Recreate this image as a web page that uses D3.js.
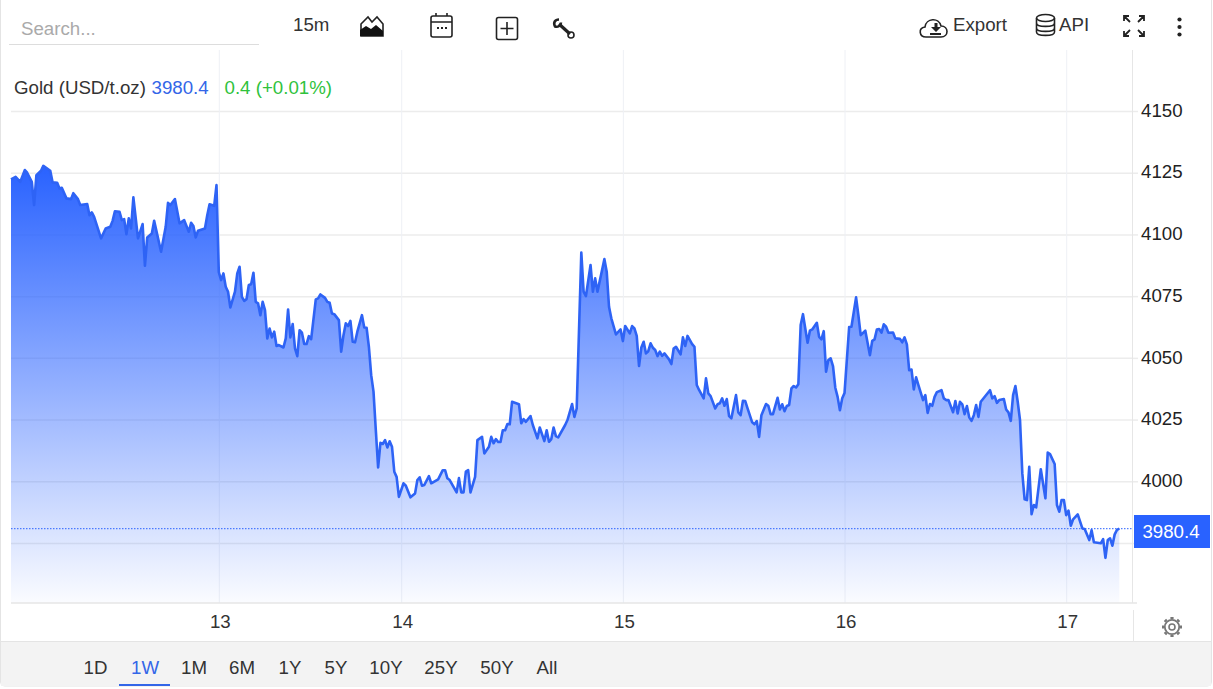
<!DOCTYPE html>
<html>
<head>
<meta charset="utf-8">
<title>Gold (USD/t.oz)</title>
<script src="https://cdn.jsdelivr.net/npm/d3@7"></script>
<style>
  html, body { margin: 0; padding: 0; background: #fff; }
  svg { display: block; font-family: "Liberation Sans", Arial, sans-serif; }
  .axis path { display: none; }
  .axis text { font-size: 18.7px; fill: #222; }
  .icon { fill: none; stroke: #222; stroke-width: 1.6; }
</style>
</head>
<body>
<svg id="chart" width="1213" height="689"></svg>
<script>
// [15 minute bar, price], one list per day
const day12 = [[0,4122.3],[2,4123.3],[4,4121.3],[6,4126.1],[7,4125.0],[9,4121.3],[10,4111.9],[11,4124.0],[13,4125.8],[14,4127.8],[17,4125.8],[18,4121.1],[20,4120.9],[21,4118.6],[22,4118.9],[24,4114.6],[26,4114.3],[27,4116.7],[29,4114.3],[30,4111.9],[33,4112.3],[34,4107.8],[35,4108.9],[36,4107.1],[39,4098.4],[41,4102.4],[43,4103.1],[44,4105.5],[45,4109.4],[47,4109.2],[48,4105.8],[49,4106.2],[50,4100.1],[51,4106.5],[52,4102.4],[53,4115.0],[55,4098.4],[57,4104.2],[58,4087.3],[59,4098.8],[61,4100.4],[62,4105.5],[65,4093.0],[67,4103.1],[68,4112.8],[69,4111.9],[71,4114.3],[73,4104.5],[75,4105.8],[77,4101.1],[78,4104.7],[79,4103.4],[80,4098.8],[81,4101.5],[84,4102.4],[85,4107.8],[86,4112.2],[88,4111.6],[89,4120.0]];
const day13 = [[90,4084.7],[91,4081.5],[92,4084.2],[93,4078.8],[94,4076.8],[95,4070.4],[97,4076.8],[98,4084.2],[99,4086.9],[100,4074.7],[101,4073.1],[102,4073.8],[103,4079.5],[104,4079.8],[105,4084.5],[106,4072.7],[107,4072.1],[108,4067.3],[109,4072.7],[110,4069.3],[111,4057.9],[112,4061.9],[113,4058.3],[114,4060.6],[115,4054.8],[116,4055.2],[118,4054.2],[119,4057.9],[120,4069.6],[121,4058.3],[122,4063.7],[123,4053.8],[124,4050.7],[125,4061.2],[126,4060.2],[127,4055.6],[128,4055.6],[129,4058.8],[130,4057.6],[132,4073.7],[133,4074.1],[134,4075.7],[136,4074.3],[137,4072.7],[138,4072.3],[139,4068.0],[140,4067.7],[142,4065.3],[143,4052.5],[144,4059.2],[145,4064.0],[146,4062.9],[147,4065.0],[148,4056.5],[149,4056.3],[150,4060.6],[152,4067.3],[153,4062.3],[154,4062.2],[155,4054.5],[156,4043.0],[157,4036.3],[158,4020.7],[159,4005.6],[160,4015.6],[161,4015.1],[162,4016.7],[163,4013.7],[164,4016.2],[165,4014.0],[166,4003.9],[167,4001.8],[168,3993.7]];
const day14 = [[170,3999.2],[171,3998.2],[173,3993.5],[175,3995.1],[176,4000.5],[177,4001.6],[178,3998.2],[179,3998.5],[181,4002.1],[182,3999.2],[185,4000.8],[187,4004.5],[188,4004.5],[189,4001.2],[190,4000.5],[193,3995.5],[194,4001.3],[195,3995.5],[196,3995.5],[197,4003.9],[198,4004.5],[199,3995.5],[201,4001.8],[202,4016.7],[204,4018.0],[205,4011.3],[207,4014.0],[208,4018.0],[209,4015.4],[210,4017.1],[211,4015.9],[212,4015.9],[213,4020.7],[214,4020.7],[215,4023.2],[216,4023.1],[217,4032.2],[220,4031.2],[221,4023.5],[222,4025.2],[223,4024.1],[225,4026.4],[226,4022.8],[228,4017.4],[229,4021.8],[231,4016.3],[232,4020.7],[233,4016.0],[234,4017.1],[235,4021.8],[236,4018.3],[237,4017.8],[240,4022.8],[241,4024.8],[243,4031.3],[244,4026.1],[245,4029.5],[247,4092.7],[248,4076.8],[249,4075.0],[251,4087.6],[252,4076.8],[253,4082.2],[254,4076.8],[257,4090.0],[258,4084.9],[259,4070.7],[260,4066.0],[262,4059.5],[264,4061.5]];
const day15 = [[265,4056.8],[266,4062.9],[268,4059.9],[269,4062.9],[270,4061.9],[271,4058.9],[272,4046.7],[273,4054.2],[274,4056.5],[275,4051.8],[276,4052.7],[277,4055.9],[278,4054.1],[279,4053.2],[280,4050.7],[281,4052.5],[282,4050.8],[283,4051.8],[285,4049.4],[286,4047.5],[287,4053.8],[288,4054.5],[290,4051.4],[291,4058.3],[292,4054.8],[293,4058.9],[295,4055.6],[296,4054.5],[297,4039.0],[298,4037.0],[300,4033.6],[301,4041.7],[302,4035.6],[303,4034.5],[305,4029.5],[306,4031.2],[307,4031.6],[308,4033.6],[309,4030.6],[310,4033.3],[311,4026.4],[312,4025.5],[314,4034.9],[315,4027.9],[316,4026.8],[317,4032.6],[318,4032.5],[319,4029.5],[321,4023.9],[322,4023.1],[323,4024.4],[324,4018.0],[325,4026.8],[327,4031.3],[328,4030.6],[329,4027.2],[330,4027.2],[332,4033.8],[333,4029.1],[334,4031.2],[335,4028.4],[336,4030.5],[337,4030.9],[338,4037.6],[339,4038.6],[340,4038.0],[341,4039.3],[342,4063.3],[343,4067.7],[345,4056.1],[346,4061.0],[347,4061.5],[349,4064.2],[350,4058.5],[351,4057.5],[352,4060.8],[353,4044.4],[354,4049.1],[355,4049.8],[356,4046.7],[357,4037.9],[358,4034.2],[359,4028.8],[360,4033.6]];
const day16 = [[361,4035.8],[363,4062.5],[364,4062.6],[366,4074.5],[367,4067.3],[368,4059.2],[370,4061.0],[372,4051.1],[373,4056.9],[374,4057.5],[375,4061.5],[376,4061.7],[377,4060.2],[378,4063.6],[379,4062.6],[380,4060.2],[382,4060.3],[383,4057.9],[385,4057.7],[386,4056.3],[387,4058.3],[388,4055.5],[389,4045.0],[390,4045.3],[391,4037.2],[392,4042.1],[393,4039.0],[395,4032.9],[396,4034.9],[397,4027.7],[398,4031.3],[399,4030.6],[400,4034.2],[401,4036.1],[403,4036.9],[404,4033.6],[405,4032.9],[406,4032.9],[408,4028.0],[409,4032.5],[410,4027.5],[411,4032.2],[412,4031.2],[413,4027.2],[414,4030.5],[415,4025.9],[416,4024.5],[417,4026.8],[418,4030.9],[419,4026.1],[420,4032.2],[424,4036.9],[425,4033.6],[426,4034.5],[427,4031.8],[428,4032.9],[430,4033.3],[431,4029.1],[432,4027.9],[433,4024.5],[434,4034.9],[435,4038.6],[436,4032.2],[437,4024.8],[438,4003.2],[439,3992.7],[440,3992.4],[441,4005.9],[442,3986.7],[443,3990.4],[444,3989.4],[446,4004.9],[448,3993.1],[449,4011.6],[450,4011.0],[452,4007.0],[453,3990.4],[454,3987.7],[455,3992.4],[456,3992.4]];
const day17 = [[457,3986.3],[458,3988.1],[459,3982.0],[460,3984.6],[462,3986.6],[464,3980.9],[465,3980.7],[467,3976.2],[468,3980.2],[469,3975.3],[472,3974.9],[473,3976.6],[474,3969.0],[475,3976.2],[476,3976.9],[477,3973.9],[478,3978.5],[479,3980.3],[480,3980.8]];

const yTicks = [4150, 4125, 4100, 4075, 4050, 4025, 4000, 3975];
const yHiddenLabel = 3975; // sits behind the price tag
const dayTickBars = [90, 169, 265, 361, 457];
const dayTickLabels = ["13", "14", "15", "16", "17"];
const ranges = ["1D", "1W", "1M", "6M", "1Y", "5Y", "10Y", "25Y", "50Y", "All"];
const rangeCentres = [95.5, 145, 194, 242, 290, 336, 386, 441, 497, 547];
const activeRange = "1W";

const quotes = [...day12, ...day13, ...day14, ...day15, ...day16, ...day17];
const lastQuote = quotes[quotes.length - 1];

const svg = d3.select("#chart");
const blue = "#2962ff";
const textSize = 18.7;

const plotLeft = 11, plotRight = 1132, plotTop = 50, plotBottom = 603;

const x = d3.scaleLinear().domain([0, 480]).range([plotLeft, 1119.3]);
const y = d3.scaleLinear().domain([4150, 3950.7]).range([111, plotBottom]);

// card + bottom strip
svg.append("rect").attr("x", 0.5).attr("y", -4).attr("width", 1211).attr("height", 690)
  .attr("rx", 4).attr("fill", "#fff").attr("stroke", "#e4e4e4");
svg.append("rect").attr("x", 1).attr("y", 642).attr("width", 1210).attr("height", 44)
  .attr("fill", "#f3f3f3");
svg.append("line").attr("x1", 1).attr("x2", 1211).attr("y1", 641.5).attr("y2", 641.5)
  .attr("stroke", "#e4e4e4");

// gridlines
svg.append("g").attr("transform", `translate(${plotRight},0)`)
  .call(d3.axisLeft(y).tickValues(yTicks).tickSize(plotRight - plotLeft).tickFormat(""))
  .call((g) => g.select(".domain").remove())
  .selectAll("line").attr("stroke", "#ececec").attr("stroke-width", 1.5);
svg.append("g").attr("transform", `translate(0,${plotBottom})`)
  .call(d3.axisTop(x).tickValues(dayTickBars).tickSize(plotBottom - plotTop).tickFormat(""))
  .call((g) => g.select(".domain").remove())
  .selectAll("line").attr("stroke", "#eef0f5");

// area + line
const grad = svg.append("defs").append("linearGradient")
  .attr("id", "fade").attr("x1", 0).attr("x2", 0).attr("y1", 0).attr("y2", 1);
grad.append("stop").attr("offset", "0%").attr("stop-color", blue).attr("stop-opacity", 1);
grad.append("stop").attr("offset", "100%").attr("stop-color", blue).attr("stop-opacity", 0.02);

svg.append("path").datum(quotes)
  .attr("fill", "url(#fade)")
  .attr("d", d3.area().x((d) => x(d[0])).y0(plotBottom).y1((d) => y(d[1])));
svg.append("path").datum(quotes)
  .attr("fill", "none").attr("stroke", "#2e63f5").attr("stroke-width", 2.6)
  .attr("stroke-linejoin", "round")
  .attr("d", d3.line().x((d) => x(d[0])).y((d) => y(d[1])));

// last price line
svg.append("line").attr("x1", plotLeft).attr("x2", plotRight)
  .attr("y1", y(lastQuote[1])).attr("y2", y(lastQuote[1]))
  .attr("stroke", blue).attr("stroke-dasharray", "1.5 1.5");

// axes
const yAxis = svg.append("g").attr("class", "axis").attr("transform", `translate(${plotRight},0)`)
  .call(d3.axisRight(y).tickValues(yTicks).tickSize(6).tickPadding(3)
    .tickFormat((d) => (d === yHiddenLabel ? "" : d)));
yAxis.selectAll("line").attr("stroke", "#ececec").attr("stroke-width", 1.5);
yAxis.selectAll("text").attr("dy", "0.28em");

const xAxis = svg.append("g").attr("class", "axis").attr("transform", `translate(1,${plotBottom})`)
  .call(d3.axisBottom(x).tickValues(dayTickBars).tickSize(0).tickPadding(12)
    .tickFormat((d, i) => dayTickLabels[i]));
xAxis.selectAll("text").style("fill", "#333");

svg.append("line").attr("x1", plotLeft).attr("x2", plotRight + 5).attr("y1", plotBottom).attr("y2", plotBottom)
  .attr("stroke", "#e6e6e6").attr("stroke-width", 1.5);
svg.append("line").attr("x1", plotRight + 0.5).attr("x2", plotRight + 0.5).attr("y1", plotTop).attr("y2", plotBottom)
  .attr("stroke", "#e6e6e6");
svg.append("line").attr("x1", plotRight + 1.5).attr("x2", plotRight + 1.5).attr("y1", 610).attr("y2", 642)
  .attr("stroke", "#e6e6e6");

// price tag
svg.append("rect").attr("x", 1134).attr("y", 515).attr("width", 76).attr("height", 33).attr("fill", blue);
svg.append("text").attr("x", 1171).attr("y", 538).attr("text-anchor", "middle")
  .attr("font-size", textSize).attr("fill", "#fff").text("3980.4");

// legend
const legend = svg.append("g").attr("font-size", textSize);
legend.append("text").attr("x", 14).attr("y", 94).attr("fill", "#333").text("Gold (USD/t.oz)");
legend.append("text").attr("x", 151.5).attr("y", 94).attr("fill", "#3366e8").text("3980.4");
legend.append("text").attr("x", 224.5).attr("y", 94).attr("fill", "#2fc23c").text("0.4 (+0.01%)");

// toolbar
svg.append("text").attr("x", 21).attr("y", 35).attr("font-size", textSize).attr("fill", "#aaa").text("Search...");
svg.append("line").attr("x1", 9).attr("x2", 259).attr("y1", 44.5).attr("y2", 44.5).attr("stroke", "#ddd");
svg.append("text").attr("x", 293).attr("y", 31).attr("font-size", textSize).attr("fill", "#333").text("15m");
svg.append("text").attr("x", 953).attr("y", 31).attr("font-size", textSize).attr("fill", "#333").text("Export");
svg.append("text").attr("x", 1059).attr("y", 31).attr("font-size", textSize).attr("fill", "#333").text("API");

// chart type icon
svg.append("path").attr("class", "icon").attr("d", "M361 24l7-7 4 5 5-5 6 7v12h-22z");
svg.append("path").attr("fill", "#111").attr("d", "M360 36v-6l6-4 5 3 5-4 7 6v5z");
// calendar
svg.append("rect").attr("class", "icon").attr("x", 431).attr("y", 16).attr("width", 21).attr("height", 21).attr("rx", 2);
svg.append("path").attr("class", "icon").attr("d", "M431 22h21M436 13v3M447 13v3");
svg.append("path").attr("stroke", "#222").attr("stroke-width", 2).attr("stroke-dasharray", "2 2").attr("d", "M437 28h10");
// add box
svg.append("rect").attr("class", "icon").attr("x", 496.5).attr("y", 17.5).attr("width", 21).attr("height", 22).attr("rx", 2);
svg.append("path").attr("class", "icon").attr("d", "M507 22v13M500.5 28.5h13");
// wrench
svg.append("path").attr("stroke", "#222").attr("stroke-width", 3.2).attr("fill", "none").attr("d", "M559 24l11 10");
svg.append("circle").attr("class", "icon").attr("cx", 571).attr("cy", 35).attr("r", 3);
svg.append("path").attr("stroke", "#222").attr("stroke-width", 2.6).attr("fill", "none").attr("d", "M559 19.5c-4 0-6 3-4 7 3 1 6-1 6-4");
// cloud
svg.append("path").attr("class", "icon").attr("d", "M926 37c-7 0-8-9-1-10 1-9 14-10 16-1 8 0 8 11 0 11z");
svg.append("path").attr("fill", "#222").attr("d", "M931 27h3.5v-4h3v4h3.500l-5 5zM930 33h11v2h-11z");
// database
svg.append("ellipse").attr("class", "icon").attr("cx", 1045.5).attr("cy", 18).attr("rx", 9).attr("ry", 3.5);
svg.append("path").attr("class", "icon").attr("d", "M1036.5 18v14c0 4.5 18 4.5 18 0v-14M1036.5 23c0 4.5 18 4.5 18 0M1036.5 28c0 4.5 18 4.5 18 0");
// fullscreen
svg.append("path").attr("fill", "none").attr("stroke", "#222").attr("stroke-width", 1.8)
  .attr("d", "M1124 16l6 6M1124 21v-5h5M1144 16l-6 6M1139 16h5v5M1124 36l6-6M1124 31v5h5M1144 36l-6-6M1144 31v5h-5");
// kebab
svg.selectAll(".dot").data([19.5, 27, 34.5]).enter().append("circle").attr("class", "dot")
  .attr("cx", 1179.5).attr("cy", (d) => d).attr("r", 2.1).attr("fill", "#222");
// settings gear
const gearRays = d3.range(8).map((i) => i * 45);
svg.append("circle").attr("cx", 1172).attr("cy", 627).attr("r", 7.2).attr("fill", "none").attr("stroke", "#777").attr("stroke-width", 1.8);
svg.append("circle").attr("cx", 1172).attr("cy", 627).attr("r", 3).attr("fill", "none").attr("stroke", "#777").attr("stroke-width", 1.6);
svg.selectAll(".ray").data(gearRays).enter().append("line").attr("class", "ray")
  .attr("x1", 1172).attr("x2", 1172).attr("y1", 619).attr("y2", 617)
  .attr("transform", (d) => `rotate(${d} 1172 627)`)
  .attr("stroke", "#777").attr("stroke-width", 3.2);

// range buttons
svg.selectAll(".range").data(ranges).enter().append("text").attr("class", "range")
  .attr("x", (d, i) => rangeCentres[i]).attr("y", 674).attr("text-anchor", "middle")
  .attr("font-size", textSize)
  .attr("fill", (d) => (d === activeRange ? "#3366e8" : "#333"))
  .text((d) => d);
svg.append("rect").attr("x", 119).attr("y", 684).attr("width", 51).attr("height", 2).attr("fill", "#3366e8");
</script>
</body>
</html>
